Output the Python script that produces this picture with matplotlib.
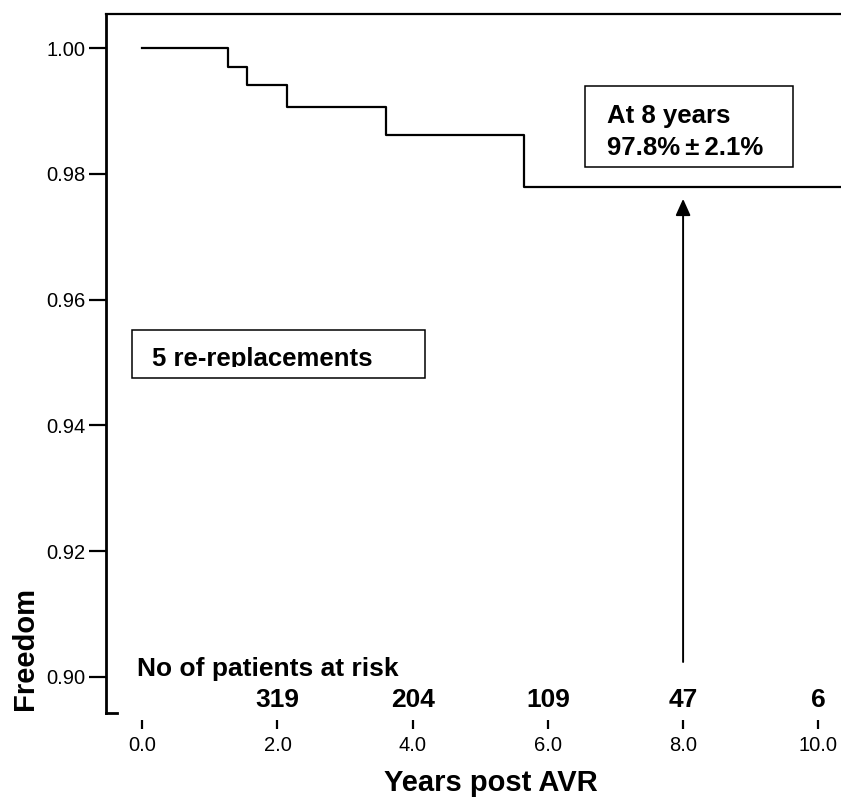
import matplotlib
matplotlib.use("Agg")
import matplotlib.pyplot as plt
from matplotlib.patches import Rectangle

plt.rcParams['font.family'] = ['Liberation Sans', 'DejaVu Sans']

# Kaplan-Meier steps (years, freedom)
step_years = [0.0, 1.27, 1.55, 2.14, 3.61, 5.65, 10.6]
freedom = [1.000, 0.9971, 0.9941, 0.9907, 0.9862, 0.9780, 0.9780]

# patients at risk
risk_years = [2, 4, 6, 8, 10]
at_risk = ['319', '204', '109', '47', '6']

x_ticks = [0, 2, 4, 6, 8, 10]
y_ticks = [0.90, 0.92, 0.94, 0.96, 0.98, 1.00]

fig = plt.figure(figsize=(8.41, 7.99), dpi=100)
ax = fig.add_axes([106 / 841, 1 - 712.7 / 799, 1 - 106 / 841, (712.7 - 14) / 799])

ax.step(step_years, freedom, where='post', color='black', lw=1.6)

ax.set_xlim(-0.537, 10.336)
ax.set_ylim(0.89427, 1.00546)

# frame: left + top, x ticks float below
ax.spines['right'].set_visible(False)
ax.spines['bottom'].set_visible(False)
ax.spines['bottom'].set_position(('outward', 5))
ax.spines['left'].set_linewidth(2)
ax.spines['top'].set_linewidth(1.6)

ax.set_xticks(x_ticks)
ax.set_xticklabels(['%.1f' % v for v in x_ticks], fontsize=14.5)
ax.set_yticks(y_ticks)
ax.set_yticklabels(['%.2f' % v for v in y_ticks], fontsize=14.5)
ax.tick_params(axis='y', length=12, width=1.6, pad=3)
ax.tick_params(axis='x', length=6.5, width=1.6, pad=5)

# little foot at bottom of the y axis
ax.plot([0, 11 / 735], [0, 0], color='black', lw=2, transform=ax.transAxes, clip_on=False)

# risk table
ax.text(-0.083, 0.9001, 'No of patients at risk', fontsize=19, fontweight='bold',
        ha='left', va='baseline')
for xv, n in zip(risk_years, at_risk):
    ax.text(xv, 0.89523, n, fontsize=19, fontweight='bold', ha='center', va='baseline')

# "At 8 years" box and arrow
ax.add_patch(Rectangle((6.546, 0.98116), 9.628 - 6.546, 0.99400 - 0.98116,
                       fill=False, edgecolor='black', lw=1.1))
ax.text(6.87, 0.98816, 'At 8 years', fontsize=18.5, fontweight='bold', va='baseline')
ax.text(6.87, 0.98302, '97.8%\u2009\u00b1\u20092.1%', fontsize=18.5, fontweight='bold',
        va='baseline')
ax.annotate('', xy=(8, 0.97604), xytext=(8, 0.90234),
            arrowprops=dict(arrowstyle='-|>,head_length=1.0,head_width=0.45',
                            color='black', lw=1.4, shrinkA=0, shrinkB=0))

# "5 re-replacements" box (descenders are cut off in the original)
ax.add_patch(Rectangle((-0.157, 0.94757), 4.182 + 0.157, 0.95516 - 0.94757,
                       fill=False, edgecolor='black', lw=1.1))
t = ax.text(0.139, 0.94950, '5 re-replacements', fontsize=18.5, fontweight='bold',
            va='baseline', clip_on=True)
clip = Rectangle((-0.157, 0.94922), 4.34, 0.01, transform=ax.transData)
t.set_clip_path(clip)

fig.text(25 / 841, 1 - 649 / 799, 'Freedom', rotation=90, fontsize=21,
         fontweight='bold', ha='center', va='center')
fig.text(491 / 841, 1 - 783 / 799, 'Years post AVR', fontsize=21,
         fontweight='bold', ha='center', va='center')

fig.savefig('out.png', dpi=100)
